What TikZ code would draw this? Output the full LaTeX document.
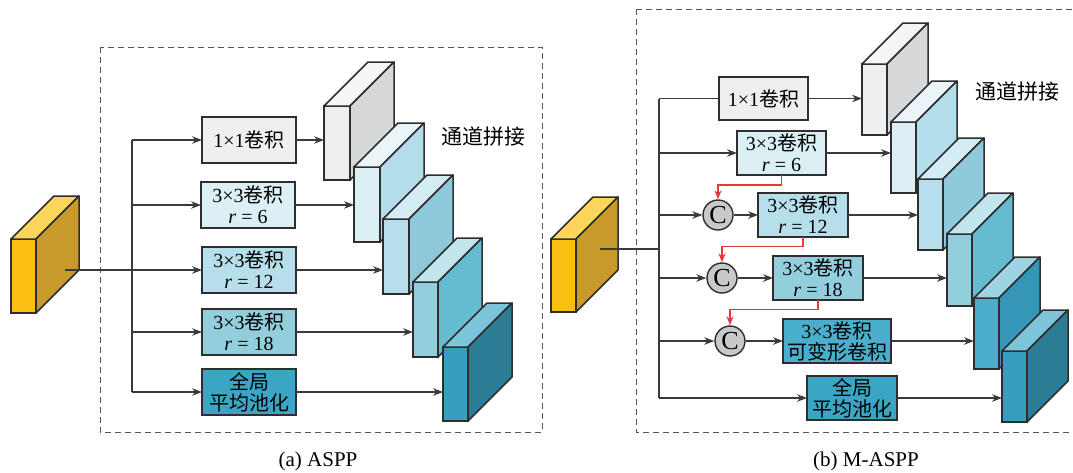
\documentclass[tikz,border=0pt]{standalone}
\usepackage{fontspec}
\setmainfont{Liberation Serif}
\newfontfamily\cjk{Noto Sans CJK SC}
\usetikzlibrary{arrows.meta}

\definecolor{edge}{HTML}{2E2E2E}
\definecolor{linec}{HTML}{3A3A3A}
\definecolor{framec}{HTML}{555555}
\definecolor{redc}{HTML}{E8383D}
\definecolor{cgray}{HTML}{C8C9CB}
\definecolor{yfront}{HTML}{FBBF14}
\definecolor{ytop}{HTML}{FDD55B}
\definecolor{yside}{HTML}{C89A2B}
\definecolor{gfront}{HTML}{EEEFF1}
\definecolor{gtop}{HTML}{F5F5F6}
\definecolor{gside}{HTML}{D7D8DA}
\definecolor{bafront}{HTML}{DCEFF5}
\definecolor{batop}{HTML}{EAF5F9}
\definecolor{baside}{HTML}{B3DDEA}
\definecolor{bbfront}{HTML}{B7DEEB}
\definecolor{bbtop}{HTML}{D4ECF3}
\definecolor{bbside}{HTML}{8ECADB}
\definecolor{bcfront}{HTML}{93CEDD}
\definecolor{bctop}{HTML}{C2E5EE}
\definecolor{bcside}{HTML}{66BBD0}
\definecolor{bdfront}{HTML}{4BADCB}
\definecolor{bdtop}{HTML}{9DD3E3}
\definecolor{bdside}{HTML}{3596B8}
\definecolor{befront}{HTML}{369EBF}
\definecolor{betop}{HTML}{7BC4D9}
\definecolor{beside}{HTML}{2B7C94}
\definecolor{poolc}{HTML}{3BA6C4}
\definecolor{deformc}{HTML}{4AAFCC}

\tikzset{
  box/.style={draw=edge, line width=1.6pt, inner sep=0pt, outer sep=0pt, align=center, font=\fontsize{20}{21}\selectfont},
  boxa/.style={box, minimum width=94pt, minimum height=46pt},
  boxb/.style={box, minimum width=90pt, minimum height=44pt},
  cubeface/.style={draw=edge, line width=1.5pt, inner sep=0pt, outer sep=0pt},
  cubeedge/.style={draw=edge, line width=1.5pt, line join=round},
  arr/.style={draw=linec, line width=1.1pt, -{Stealth[length=10pt,width=7.5pt]}},
  plain/.style={draw=linec, line width=1.1pt},
  redarr/.style={draw=redc, line width=1.1pt, -{Stealth[length=9pt,width=7pt]}},
  cnode/.style={circle, draw=edge, line width=1.4pt, fill=cgray, minimum size=30pt, inner sep=0pt, font=\fontsize{26}{26}\selectfont},
  frame/.style={draw=framec, line width=1pt, dash pattern=on 6pt off 4pt},
  lbl/.style={font=\cjk\fontsize{21}{21}\selectfont},
  captxt/.style={font=\fontsize{21}{21}\selectfont},
}

% #1 name, #2 left x, #3 top y, #4 w, #5 h, #6 depth, #7 front, #8 top, #9 side
\newcommand{\mycube}[9]{%
  \node[cubeface, fill=#7, minimum width=#4pt, minimum height=#5pt, anchor=north west] (#1) at (#2,#3) {};
  \draw[cubeedge, fill=#8] (#1.north west) -- ++(#6,-#6) -- ++(#4,0) -- (#1.north east) -- cycle;
  \draw[cubeedge, fill=#9] (#1.north east) -- ++(#6,-#6) -- ++(0,#5) -- (#1.south east) -- cycle;
}

\begin{document}
\begin{tikzpicture}[x=1pt,y=-1pt]
\useasboundingbox (0,0) rectangle (1073,472);

% frames
\draw[frame] (100,47) rectangle (542,432);
\draw[frame] (636,9) rectangle (1076,432);

% ================= (a) ASPP =================
\mycube{inA}{11}{239}{25}{74}{43}{yfront}{ytop}{yside}
\coordinate (inAo) at (65,270);
\coordinate (brA) at (132,270);

\node[boxa, fill=gfront] (a1) at (249,140) {1×1{\cjk 卷积}};
\node[boxa, fill=bafront] (a2) at (248,205) {3×3{\cjk 卷积}\\\textit{r} = 6};
\node[boxa, fill=bbfront] (a3) at (249,270) {3×3{\cjk 卷积}\\\textit{r} = 12};
\node[boxa, fill=bcfront] (a4) at (249,332) {3×3{\cjk 卷积}\\\textit{r} = 18};
\node[boxa, fill=poolc] (a5) at (249,392) {{\cjk 全局}\\{\cjk 平均池化}};

\draw[plain] (inAo) -- (brA);
\draw[plain] (a1 -| brA) -- (a5 -| brA);
\foreach \n in {a1,a2,a3,a4,a5} \draw[arr] (\n -| brA) -- (\n.west);

\mycube{cA1}{324}{106}{26}{74}{44}{gfront}{gtop}{gside}
\mycube{cA2}{354}{167}{26}{75}{44}{bafront}{batop}{baside}
\mycube{cA3}{383}{219}{26}{75}{44}{bbfront}{bbtop}{bbside}
\mycube{cA4}{413}{282}{25}{75}{44}{bcfront}{bctop}{bcside}
\mycube{cA5}{443}{347}{25}{74}{44}{befront}{betop}{beside}

\draw[arr] (a1.east) -- (a1.east -| cA1.west);
\draw[arr] (a2.east) -- (a2.east -| cA2.west);
\draw[arr] (a3.east) -- (a3.east -| cA3.west);
\draw[arr] (a4.east) -- (a4.east -| cA4.west);
\draw[arr] (a5.east) -- (a5.east -| cA5.west);

\node[lbl] (tA) at (483,137) {通道拼接};
\node[captxt] (capA) at (318,461) {(a) ASPP};

% ================= (b) M-ASPP =================
\mycube{inB}{551}{239}{25}{73}{42}{yfront}{ytop}{yside}
\coordinate (inBo) at (600,249);
\coordinate (brB) at (659,249);

\node[box, fill=gfront, minimum width=89pt, minimum height=43pt] (B1) at (763.5,98.5) {1×1{\cjk 卷积}};
\node[boxb, fill=bafront, minimum width=89pt] (B2) at (781.5,153) {3×3{\cjk 卷积}\\\textit{r} = 6};
\node[boxb, fill=bbfront] (B3) at (803,215) {3×3{\cjk 卷积}\\\textit{r} = 12};
\node[boxb, fill=bcfront] (B4) at (818,278) {3×3{\cjk 卷积}\\\textit{r} = 18};
\node[boxb, fill=deformc, minimum width=108pt] (B5) at (837,341) {3×3{\cjk 卷积}\\{\cjk 可变形卷积}};
\node[boxb, fill=poolc] (B6) at (852,398) {{\cjk 全局}\\{\cjk 平均池化}};

\node[cnode] (C1) at (718,215) {C};
\node[cnode] (C2) at (722,278) {C};
\node[cnode] (C3) at (730,341) {C};

\draw[plain] (inBo) -- (brB);
\draw[plain] (B1 -| brB) -- (B6 -| brB);
\draw[plain] (B1 -| brB) -- (B1.west);
\draw[arr] (B2 -| brB) -- (B2.west);
\draw[arr] (C1 -| brB) -- (C1.west);
\draw[arr] (C2 -| brB) -- (C2.west);
\draw[arr] (C3 -| brB) -- (C3.west);
\draw[arr] (B6 -| brB) -- (B6.west);

\draw[arr] (C1.east) -- (C1.east -| B3.west);
\draw[arr] (C2.east) -- (C2.east -| B4.west);
\draw[arr] (C3.east) -- (C3.east -| B5.west);

\draw[redarr] (B2.south) -- ++(0,10) -| (C1.north);
\draw[redarr] (B3.south) -- ++(0,9.5) -| (C2.north);
\draw[redarr] (B4.south) -- ++(0,9.5) -| (C3.north);

\mycube{cB1}{862}{64}{25}{71}{41}{gfront}{gtop}{gside}
\mycube{cB2}{891}{122}{25}{71}{41}{bafront}{batop}{baside}
\mycube{cB3}{918}{179}{25}{71}{41}{bbfront}{bbtop}{bbside}
\mycube{cB4}{947}{234}{25}{72}{41}{bcfront}{bctop}{bcside}
\mycube{cB5}{974}{298}{25}{71}{41}{bdfront}{bdtop}{bdside}
\mycube{cB6}{1002}{351}{25}{71}{41}{befront}{betop}{beside}

\draw[arr] (B1.east) -- (B1.east -| cB1.west);
\draw[arr] (B2.east) -- (B2.east -| cB2.west);
\draw[arr] (B3.east) -- (B3.east -| cB3.west);
\draw[arr] (B4.east) -- (B4.east -| cB4.west);
\draw[arr] (B5.east) -- (B5.east -| cB5.west);
\draw[arr] (B6.east) -- (B6.east -| cB6.west);

\node[lbl] (tB) at (1017,92) {通道拼接};
\node[captxt] (capB) at (866,461) {(b) M-ASPP};
\end{tikzpicture}
\end{document}
